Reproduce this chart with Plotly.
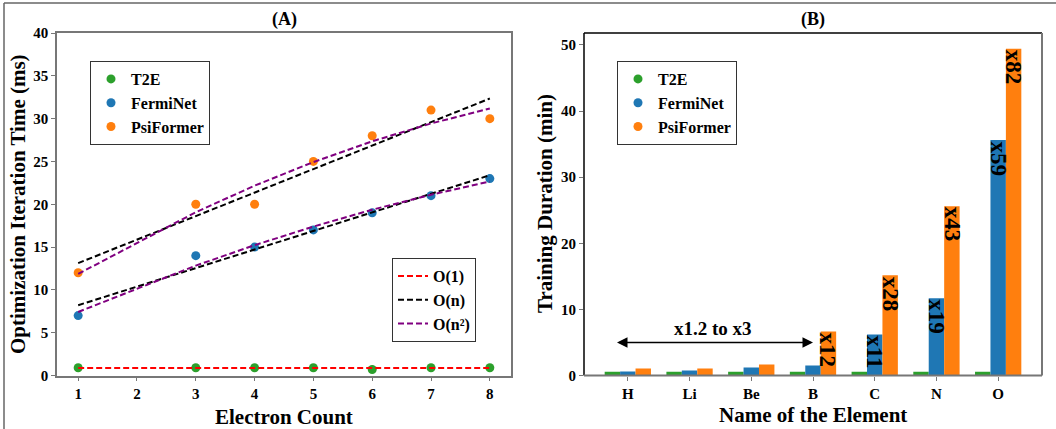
import numpy as np
import plotly.graph_objects as go

# ---------------- data ----------------
electrons = [1, 3, 4, 5, 6, 7, 8]
t2e_ms = [0.9, 0.9, 0.9, 0.9, 0.7, 0.9, 0.9]
ferminet_ms = [7, 14, 15, 17, 19, 21, 23]
psiformer_ms = [12, 20, 20, 25, 28, 31, 30]

elements = ["H", "Li", "Be", "B", "C", "N", "O"]
t2e_min = [0.58, 0.58, 0.58, 0.58, 0.58, 0.58, 0.58]
ferminet_min = [0.6, 0.75, 1.2, 1.5, 6.2, 11.7, 35.6]
psiformer_min = [1.05, 1.05, 1.65, 6.65, 15.15, 25.6, 49.4]
ferminet_labels = ["", "", "", "", "x11", "x19", "x59"]
psiformer_labels = ["", "", "", "x12", "x28", "x43", "x82"]
arrow_text = "x1.2 to x3"

GREEN, BLUE, ORANGE = "#2ca02c", "#1f77b4", "#ff7f0e"
FONT = "Liberation Serif, Times New Roman, serif"
W, H = 1056, 429

fig = go.Figure()

# ---------------- panel A ----------------
xa = np.array(electrons, dtype=float)
for name, ys, col in [("T2E", t2e_ms, GREEN), ("FermiNet", ferminet_ms, BLUE),
                      ("PsiFormer", psiformer_ms, ORANGE)]:
    fig.add_trace(go.Scatter(x=electrons, y=ys, mode="markers", name=name,
                             marker=dict(color=col, size=9), legend="legend",
                             xaxis="x", yaxis="y"))

# fitted complexity curves
o1 = float(np.mean(t2e_ms))
fig.add_trace(go.Scatter(x=electrons, y=[o1] * len(electrons), mode="lines", name="O(1)",
                         line=dict(color="red", width=2, dash="6px,3px"),
                         legend="legend2", legendgroup="o1", xaxis="x", yaxis="y"))
first = True
for ys in [ferminet_ms, psiformer_ms]:
    lin = np.polyval(np.polyfit(xa, ys, 1), xa)
    fig.add_trace(go.Scatter(x=electrons, y=lin, mode="lines", name="O(n)",
                             line=dict(color="black", width=2, dash="6px,3px"),
                             legend="legend2", legendgroup="on", showlegend=first,
                             xaxis="x", yaxis="y"))
    first = False
first = True
for ys in [ferminet_ms, psiformer_ms]:
    quad = np.polyval(np.polyfit(xa, ys, 2), xa)
    fig.add_trace(go.Scatter(x=electrons, y=quad, mode="lines", name="O(n²)",
                             line=dict(color="purple", width=2, dash="6px,3px"),
                             legend="legend2", legendgroup="on2", showlegend=first,
                             xaxis="x", yaxis="y"))
    first = False

# ---------------- panel B ----------------
idx = list(range(len(elements)))
for name, ys, col in [("T2E", t2e_min, GREEN), ("FermiNet", ferminet_min, BLUE),
                      ("PsiFormer", psiformer_min, ORANGE)]:
    fig.add_trace(go.Bar(x=idx, y=ys, name=name, marker=dict(color=col, line=dict(width=0)),
                         showlegend=False, xaxis="x2", yaxis="y2"))
    fig.add_trace(go.Scatter(x=[None], y=[None], mode="markers", name=name,
                             marker=dict(color=col, size=9), legend="legend3",
                             xaxis="x2", yaxis="y2"))

lab_font = dict(family=FONT, size=23, color="black", weight="bold")
annotations = []
for i in idx:
    if ferminet_labels[i]:
        annotations.append(dict(x=i, y=ferminet_min[i], xref="x2", yref="y2",
                                text=ferminet_labels[i], showarrow=False, textangle=90,
                                yanchor="top", xanchor="center", borderpad=0, font=lab_font))
    if psiformer_labels[i]:
        annotations.append(dict(x=i + 0.25, y=psiformer_min[i], xref="x2", yref="y2",
                                text=psiformer_labels[i], showarrow=False, textangle=90,
                                yanchor="top", xanchor="center", borderpad=0, font=lab_font))

# double-headed arrow
annotations.append(dict(x=3.0, y=5.0, ax=-0.2, ay=5.0, xref="x2", yref="y2",
                        axref="x2", ayref="y2", text="", showarrow=True,
                        arrowhead=2, arrowsize=1.4, arrowwidth=1.5, arrowside="end+start",
                        arrowcolor="black"))
annotations.append(dict(x=1.38, y=5.2, xref="x2", yref="y2", text=arrow_text,
                        showarrow=False, yanchor="bottom", xanchor="center",
                        font=dict(family=FONT, size=19, color="black", weight="bold")))

# titles
tf = dict(family=FONT, size=21, color="black", weight="bold")
pf = dict(family=FONT, size=18, color="black", weight="bold")


def lab(xp, yp, text, font, angle=0):
    return dict(x=xp / W, y=1 - yp / H, xref="paper", yref="paper", text=text,
                showarrow=False, xanchor="center", yanchor="middle", textangle=angle,
                font=font)


annotations += [
    lab(284, 20, "(A)", pf),
    lab(813, 20, "(B)", pf),
    lab(18, 204, "Optimization Iteration Time (ms)", tf, -90),
    lab(284, 417, "Electron Count", tf),
    lab(545, 204, "Training Duration (min)", tf, -90),
    lab(813, 415, "Name of the Element", tf),
]

tickfont = dict(family=FONT, size=15, color="black", weight="bold")
GRAY = "#777777"
axis_common = dict(showgrid=False, zeroline=False, ticks="outside", ticklen=4,
                   tickcolor=GRAY, tickfont=tickfont, automargin=False)

ydom = [(H - 375.5) / H, (H - 33) / H]
legend_style = dict(bgcolor="white", bordercolor="#333333", borderwidth=1,
                    font=dict(family=FONT, size=16, color="black", weight="bold"),
                    xanchor="left", yanchor="top", tracegroupgap=0)

fig.update_layout(
    width=W, height=H, margin=dict(l=0, r=0, t=0, b=0),
    paper_bgcolor="white", plot_bgcolor="white", bargap=0.25, bargroupgap=0,
    barmode="group", font=dict(family=FONT),
    xaxis=dict(domain=[57 / W, 511 / W], range=[0.64, 8.36], tickmode="array",
               tickvals=list(range(1, 9)), showline=True, linecolor=GRAY, linewidth=1.5,
               mirror=True, anchor="y", **axis_common),
    yaxis=dict(domain=ydom, range=[0, 40], tickmode="linear", tick0=0, dtick=5,
               showline=True, linecolor=GRAY, linewidth=1.5, mirror=True, anchor="x",
               **axis_common),
    xaxis2=dict(domain=[584 / W, 1042 / W], range=[-0.71, 6.71], tickmode="array",
                tickvals=idx, ticktext=elements, showline=False, anchor="y2", **axis_common),
    yaxis2=dict(domain=ydom, range=[0, 51.8], tickmode="linear", tick0=0, dtick=10,
                showline=False, anchor="x2", **axis_common),
    legend=dict(x=90 / W, y=1 - 61 / H, **legend_style),
    legend2=dict(x=392 / W, y=1 - 258 / H, **legend_style),
    legend3=dict(x=617 / W, y=1 - 61 / H, **legend_style),
    annotations=annotations,
    shapes=[
        # panel B frame
        dict(type="line", xref="x2 domain", yref="y2 domain", x0=0, x1=0, y0=0, y1=1,
             line=dict(color="black", width=1.5)),
        dict(type="line", xref="x2 domain", yref="y2 domain", x0=0, x1=1, y0=1, y1=1,
             line=dict(color="black", width=1.5)),
        dict(type="line", xref="x2 domain", yref="y2 domain", x0=1, x1=1, y0=0, y1=1,
             line=dict(color=GRAY, width=2)),
        dict(type="line", xref="x2 domain", yref="y2 domain", x0=0, x1=1, y0=0, y1=0,
             line=dict(color=GRAY, width=2)),
        # outer figure border (left and top)
        dict(type="line", xref="paper", yref="paper", x0=4 / W, x1=4 / W, y0=0, y1=1 - 3 / H,
             line=dict(color="#666666", width=1.5)),
        dict(type="line", xref="paper", yref="paper", x0=4 / W, x1=1, y0=1 - 3 / H, y1=1 - 3 / H,
             line=dict(color="#666666", width=1.5)),
    ],
)

fig.write_html("out.html", config={"displayModeBar": False},
               post_script="document.body.style.margin='0';document.body.style.padding='0';"
                           "document.body.style.overflow='hidden';")
